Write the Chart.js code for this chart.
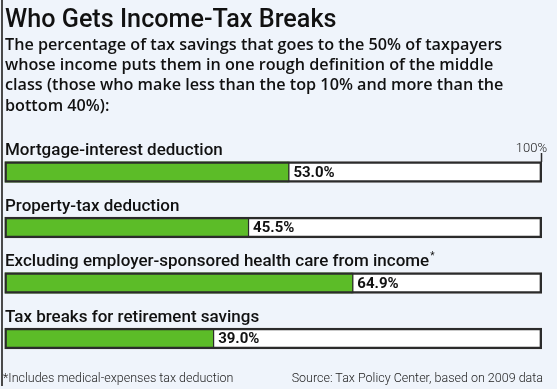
<!DOCTYPE html>
<html>
<head>
<meta charset="utf-8">
<script src="https://cdn.jsdelivr.net/npm/chart.js@4.4.1/dist/chart.umd.min.js"></script>
<style>
  html, body { margin: 0; padding: 0; }
  body { width: 557px; height: 389px; background: #eff4fb; position: relative; overflow: hidden; font-family: Roboto, sans-serif; color: #111; }
  #chart { position: absolute; left: 0; top: 0; }
  .rule { position: absolute; left: 1px; top: 0; width: 2px; height: 386px; background: #4a4a4a; }
  .title { position: absolute; left: 5px; top: 5.7px; font-size: 25.2px; line-height: 25.2px; font-weight: 500; white-space: nowrap; }
  .sub { position: absolute; left: 5px; top: 33.7px; font-family: "Open Sans", sans-serif; font-size: 16.2px; line-height: 20.3px; font-weight: 600; white-space: nowrap; }
  .foot { position: absolute; top: 371.5px; font-size: 12.5px; line-height: 12.5px; font-weight: 300; white-space: nowrap; color: #222; }
  .foot.left { left: 3px; }
  .foot.right { right: 14px; }
</style>
</head>
<body>
<canvas id="chart" width="557" height="389"></canvas>
<div class="rule"></div>
<div class="title">Who Gets Income-Tax Breaks</div>
<div class="sub">The percentage of tax savings that goes to the 50% of taxpayers<br>whose income puts them in one rough definition of the middle<br>class (those who make less than the top 10% and more than the<br>bottom 40%):</div>
<div class="foot left">*Includes medical-expenses tax deduction</div>
<div class="foot right">Source: Tax Policy Center, based on 2009 data</div>
<script>
// data
const categories = [
    'Mortgage-interest deduction',
    'Property-tax deduction',
    'Excluding employer-sponsored health care from income',
    'Tax breaks for retirement savings'
];
const notes = ['', '', '*', ''];
const shares = [53.0, 45.5, 64.9, 39.0];
const fullScale = [100, 100, 100, 100];
const scaleLabel = '100%';

const GREEN = '#5cbc28';
const INK = '#2b2b2b';

// category names above the bars, values after the green, 100% marker
const barText = {
    id: 'barText',
    afterDatasetsDraw(chart) {
        const { ctx, scales: { x, y } } = chart;
        ctx.save();
        categories.forEach((name, i) => {
            const cy = y.getPixelForValue(i);
            ctx.fillStyle = '#111';
            ctx.textBaseline = 'alphabetic';
            ctx.textAlign = 'left';
            ctx.font = '500 17px Roboto';
            ctx.fillText(name, 5, cy - 17);
            if (notes[i]) {
                const w = ctx.measureText(name).width;
                ctx.font = '400 10px Roboto';
                ctx.fillText(notes[i], 5 + w + 1, cy - 24);
            }
            ctx.font = 'bold 15px Roboto';
            ctx.textBaseline = 'middle';
            ctx.fillText(shares[i].toFixed(1) + '%', x.getPixelForValue(shares[i]) + 4, cy + 1);
        });
        const x100 = x.getPixelForValue(100);
        const top = y.getPixelForValue(0) - 10;
        ctx.strokeStyle = INK;
        ctx.lineWidth = 1.5;
        ctx.beginPath();
        ctx.moveTo(x100 - 0.5, top - 9);
        ctx.lineTo(x100 - 0.5, top);
        ctx.stroke();
        ctx.font = '300 13px Roboto';
        ctx.textAlign = 'right';
        ctx.textBaseline = 'alphabetic';
        ctx.fillStyle = '#222';
        ctx.fillText(scaleLabel, x100 + 5, top - 10);
        ctx.restore();
    }
};

new Chart(document.getElementById('chart'), {
    type: 'bar',
    data: {
        labels: categories,
        datasets: [
            {
                // outline on top
                data: fullScale,
                backgroundColor: 'rgba(0,0,0,0)',
                borderColor: INK,
                borderWidth: 2,
                borderSkipped: false,
                barThickness: 21
            },
            {
                data: shares,
                backgroundColor: GREEN,
                borderColor: INK,
                borderWidth: { left: 0, top: 0, bottom: 0, right: 1.5 },
                borderSkipped: false,
                barThickness: 21
            },
            {
                data: fullScale,
                backgroundColor: '#ffffff',
                borderWidth: 0,
                barThickness: 21
            }
        ]
    },
    options: {
        indexAxis: 'y',
        responsive: false,
        animation: false,
        devicePixelRatio: 1,
        datasets: { bar: { grouped: false } },
        layout: { padding: { left: 4.5, right: 15, top: 144.25, bottom: 22.75 } },
        scales: {
            x: { display: false, min: 0, max: 100 },
            y: { display: false }
        },
        plugins: {
            legend: { display: false },
            tooltip: { enabled: false }
        }
    },
    plugins: [barText]
});
</script>
</body>
</html>
